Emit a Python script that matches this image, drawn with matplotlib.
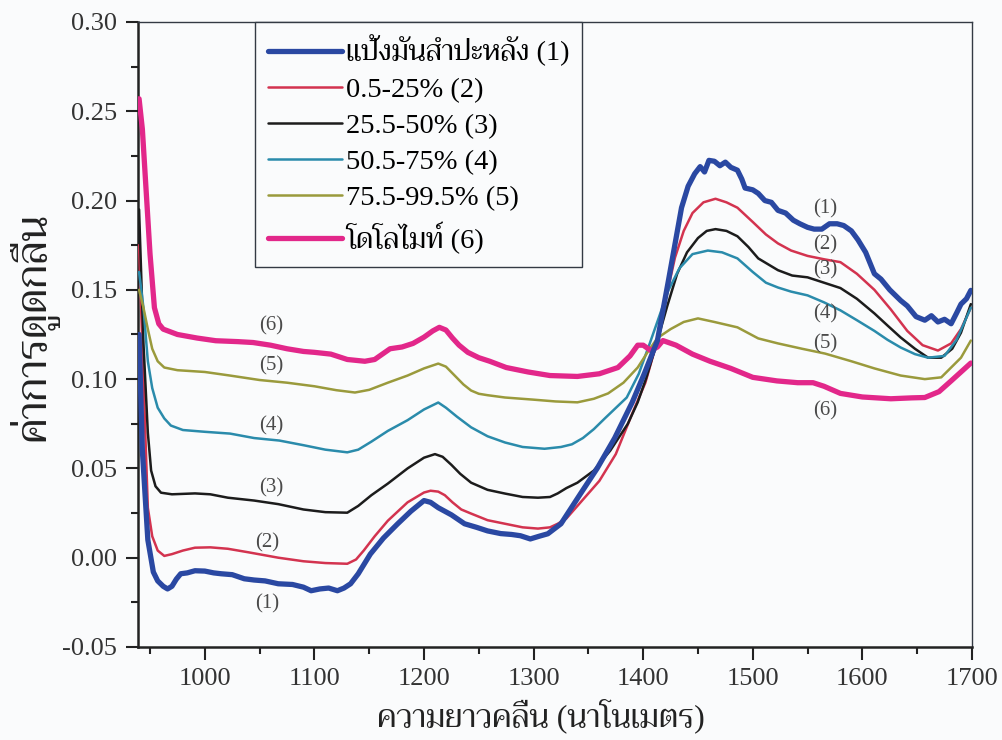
import matplotlib
matplotlib.use("Agg")
import matplotlib.pyplot as plt
from matplotlib import font_manager
from matplotlib.ticker import MultipleLocator

# ---- data ----
nm_1 = [940, 943, 948, 953, 957, 962, 966, 970, 974, 978, 984, 991, 1000, 1008, 1015, 1025,
        1036, 1045, 1055, 1067, 1080, 1090, 1097, 1105, 1113, 1121, 1127, 1133, 1140, 1151,
        1163, 1176, 1188, 1200, 1206, 1213, 1225, 1237, 1248, 1258, 1270, 1280, 1288, 1297,
        1305, 1313, 1325, 1343, 1358, 1374, 1390, 1401, 1413, 1423, 1435, 1441, 1447, 1452,
        1456, 1460, 1465, 1470, 1475, 1480, 1486, 1490, 1493, 1500, 1505, 1511, 1517, 1523,
        1530, 1537, 1543, 1550, 1556, 1563, 1570, 1577, 1583, 1590, 1596, 1603, 1611, 1617,
        1625, 1635, 1641, 1649, 1657, 1663, 1669, 1675, 1681, 1686, 1690, 1695, 1699]
abs_1 = [0.125, 0.06, 0.01, -0.008, -0.013, -0.016, -0.0175, -0.016, -0.012, -0.009, -0.0085,
         -0.0073, -0.0075, -0.0085, -0.009, -0.0095, -0.0118, -0.0125, -0.013, -0.0146, -0.015,
         -0.0165, -0.0185, -0.0175, -0.017, -0.0185, -0.017, -0.0146, -0.009, 0.002, 0.011,
         0.019, 0.026, 0.032, 0.031, 0.028, 0.024, 0.019, 0.017, 0.015, 0.0135, 0.013, 0.0123,
         0.0105, 0.012, 0.0134, 0.019, 0.036, 0.05, 0.067, 0.087, 0.103, 0.1216, 0.155, 0.196,
         0.208, 0.215, 0.219, 0.216, 0.2225, 0.222, 0.2195, 0.2215, 0.2186, 0.217, 0.212, 0.207,
         0.206, 0.204, 0.200, 0.199, 0.1945, 0.193, 0.189, 0.187, 0.185, 0.184, 0.184, 0.187,
         0.187, 0.186, 0.183, 0.178, 0.171, 0.159, 0.156, 0.150, 0.144, 0.141, 0.135, 0.133,
         0.1355, 0.132, 0.1335, 0.131, 0.137, 0.142, 0.145, 0.1497]

nm_2 = [940, 944, 948, 952, 957, 963, 970, 980, 991, 1005, 1021, 1040, 1067, 1090, 1110, 1130,
        1138, 1145, 1155, 1167, 1185, 1200, 1206, 1213, 1219, 1226, 1234, 1243, 1258, 1274,
        1290, 1304, 1315, 1322, 1330, 1340, 1350, 1360, 1375, 1390, 1402, 1413, 1421, 1429,
        1437, 1445, 1455, 1466, 1476, 1486, 1500, 1512, 1523, 1535, 1550, 1566, 1580, 1595,
        1611, 1626, 1641, 1655, 1669, 1681, 1690, 1699]
abs_2 = [0.175, 0.10, 0.028, 0.012, 0.004, 0.001, 0.002, 0.004, 0.0056, 0.0058, 0.005, 0.003,
         0.0, -0.002, -0.003, -0.0034, -0.001, 0.004, 0.012, 0.0207, 0.031, 0.0365, 0.0375,
         0.037, 0.035, 0.031, 0.027, 0.0247, 0.021, 0.019, 0.017, 0.0163, 0.017, 0.019, 0.022,
         0.029, 0.036, 0.043, 0.058, 0.0807, 0.098, 0.1216, 0.146, 0.168, 0.183, 0.193, 0.199,
         0.201, 0.199, 0.196, 0.188, 0.181, 0.176, 0.172, 0.169, 0.167, 0.1655, 0.159, 0.150,
         0.139, 0.127, 0.119, 0.116, 0.120, 0.128, 0.140]

nm_3 = [940, 944, 948, 951, 955, 960, 970, 991, 1005, 1021, 1045, 1067, 1090, 1110, 1130, 1140,
        1152, 1167, 1185, 1200, 1210, 1217, 1225, 1233, 1243, 1258, 1274, 1290, 1304, 1315,
        1322, 1330, 1340, 1355, 1370, 1386, 1395, 1403, 1413, 1422, 1431, 1440, 1450, 1458,
        1466, 1476, 1486, 1496, 1505, 1523, 1536, 1550, 1565, 1580, 1595, 1611, 1623, 1635,
        1648, 1660, 1672, 1682, 1690, 1699]
abs_3 = [0.195, 0.12, 0.07, 0.0488, 0.04, 0.0364, 0.0355, 0.036, 0.0355, 0.0336, 0.032, 0.030,
         0.027, 0.0255, 0.0252, 0.029, 0.035, 0.0415, 0.050, 0.056, 0.058, 0.0565, 0.052, 0.047,
         0.042, 0.038, 0.0359, 0.034, 0.0336, 0.034, 0.036, 0.039, 0.042, 0.0488, 0.060, 0.075,
         0.087, 0.101, 0.1216, 0.141, 0.159, 0.171, 0.179, 0.183, 0.184, 0.183, 0.180, 0.174,
         0.1676, 0.161, 0.158, 0.157, 0.154, 0.151, 0.145, 0.1368, 0.130, 0.1233, 0.117, 0.112,
         0.112, 0.117, 0.126, 0.142]

nm_4 = [940, 944, 948, 952, 957, 963, 969, 980, 1000, 1023, 1045, 1068, 1090, 1110, 1130, 1140,
        1152, 1167, 1185, 1200, 1213, 1220, 1230, 1243, 1258, 1274, 1290, 1310, 1325, 1335,
        1345, 1355, 1365, 1385, 1396, 1406, 1414, 1423, 1433, 1445, 1459, 1472, 1486, 1500,
        1512, 1523, 1535, 1550, 1565, 1580, 1595, 1611, 1623, 1635, 1648, 1660, 1675, 1686,
        1699]
abs_4 = [0.16, 0.14, 0.11, 0.095, 0.084, 0.078, 0.074, 0.0715, 0.0705, 0.0695, 0.067, 0.0656,
         0.063, 0.0605, 0.059, 0.0605, 0.065, 0.071, 0.077, 0.083, 0.0869, 0.084, 0.079, 0.073,
         0.068, 0.0645, 0.062, 0.061, 0.062, 0.0635, 0.067, 0.072, 0.078, 0.0897, 0.103, 0.120,
         0.134, 0.1497, 0.162, 0.170, 0.172, 0.171, 0.1676, 0.160, 0.154, 0.1513, 0.149, 0.1469,
         0.143, 0.1385, 0.133, 0.127, 0.122, 0.1177, 0.114, 0.112, 0.113, 0.122, 0.140]

nm_5 = [940, 944, 948, 952, 957, 963, 975, 1000, 1023, 1050, 1075, 1100, 1120, 1137, 1150, 1167,
        1185, 1200, 1213, 1220, 1228, 1236, 1243, 1250, 1258, 1274, 1300, 1320, 1340, 1355,
        1368, 1382, 1395, 1405, 1413, 1425, 1437, 1450, 1465, 1486, 1505, 1523, 1545, 1566,
        1590, 1611, 1635, 1657, 1672, 1681, 1690, 1699]
abs_5 = [0.15, 0.14, 0.128, 0.117, 0.110, 0.1065, 0.105, 0.104, 0.102, 0.0995, 0.098, 0.096,
         0.0938, 0.0925, 0.094, 0.098, 0.102, 0.106, 0.1087, 0.107, 0.102, 0.097, 0.0936,
         0.0918, 0.091, 0.0897, 0.0885, 0.0875, 0.087, 0.089, 0.092, 0.098, 0.1065, 0.116,
         0.123, 0.128, 0.132, 0.134, 0.132, 0.129, 0.1228, 0.120, 0.117, 0.1143, 0.110, 0.106,
         0.102, 0.100, 0.101, 0.1065, 0.112, 0.1216]

nm_6 = [940, 943, 946, 950, 954, 958, 962, 975, 993, 1010, 1030, 1044, 1060, 1075, 1090, 1100,
        1115, 1130, 1146, 1155, 1162, 1169, 1180, 1190, 1200, 1208, 1214, 1220, 1226, 1232,
        1240, 1250, 1260, 1275, 1295, 1315, 1340, 1360, 1377, 1388, 1395, 1400, 1407, 1413,
        1418, 1430, 1445, 1461, 1480, 1500, 1522, 1541, 1555, 1565, 1580, 1600, 1626, 1645,
        1657, 1670, 1681, 1690, 1699]
abs_6 = [0.257, 0.24, 0.21, 0.17, 0.14, 0.131, 0.128, 0.125, 0.123, 0.1215, 0.121, 0.1205,
         0.119, 0.117, 0.1155, 0.115, 0.114, 0.111, 0.110, 0.111, 0.114, 0.117, 0.118, 0.120,
         0.1235, 0.127, 0.129, 0.1275, 0.123, 0.119, 0.115, 0.112, 0.110, 0.1065, 0.104, 0.102,
         0.1015, 0.103, 0.1065, 0.113, 0.119, 0.119, 0.116, 0.118, 0.1216, 0.119, 0.114, 0.110,
         0.106, 0.101, 0.099, 0.098, 0.098, 0.096, 0.092, 0.090, 0.089, 0.0895, 0.0897, 0.093,
         0.099, 0.104, 0.109]

legend_names = ["แป้งมันสำปะหลัง (1)", "0.5-25% (2)", "25.5-50% (3)",
                "50.5-75% (4)", "75.5-99.5% (5)", "โดโลไมท์ (6)"]
curve_tags = ["(1)", "(2)", "(3)", "(4)", "(5)", "(6)"]
# where the (n) tags sit: left group and right group
tag_left_x = [1057, 1057, 1061, 1061, 1061, 1061]
tag_left_y = [-0.026, 0.0084, 0.039, 0.074, 0.1076, 0.130]
tag_right_x = [1566, 1566, 1566, 1566, 1566, 1566]
tag_right_y = [0.1956, 0.175, 0.161, 0.1368, 0.120, 0.0824]

xticks = [1000, 1100, 1200, 1300, 1400, 1500, 1600, 1700]
yticks = [-0.05, 0.00, 0.05, 0.10, 0.15, 0.20, 0.25, 0.30]

# ---- fonts: latin serif + a Thai font that is actually installed ----
installed = {f.name for f in font_manager.fontManager.ttflist}
thai_font = "DejaVu Sans"
for name in ["Trirong", "Taviraj", "Sarabun", "Noto Serif Thai", "Noto Sans Thai"]:
    if name in installed:
        thai_font = name
        break
serif = ["Liberation Serif", thai_font]
plt.rcParams["font.family"] = serif

colors = ["#2a48a2", "#d3334f", "#1c1c1c", "#2a8bab", "#9a9a3c", "#e2278a"]
widths = [3.8, 1.8, 1.8, 1.8, 1.8, 3.8]
series_x = [nm_1, nm_2, nm_3, nm_4, nm_5, nm_6]
series_y = [abs_1, abs_2, abs_3, abs_4, abs_5, abs_6]

fig = plt.figure(figsize=(10.02, 7.4), dpi=100, facecolor="#fafbfc")
ax = fig.add_axes([0.1377, 0.1257, 0.8323, 0.8446])
ax.set_facecolor("#fafbfc")

for i in range(6):
    ax.plot(series_x[i], series_y[i], color=colors[i], lw=widths[i],
            label=legend_names[i], solid_capstyle="round", solid_joinstyle="round",
            zorder=3 + (i == 0))

for i in range(6):
    ax.text(tag_left_x[i], tag_left_y[i], curve_tags[i], fontsize=15,
            color="#4a4a4a", ha="center", va="center")
    ax.text(tag_right_x[i], tag_right_y[i], curve_tags[i], fontsize=15,
            color="#4a4a4a", ha="center", va="center")

ax.set_xlim(939, 1700)
ax.set_ylim(-0.05, 0.30)
ax.set_xticks(xticks)
ax.set_yticks(yticks)
ax.set_yticklabels(["%.2f" % v for v in yticks])
ax.xaxis.set_minor_locator(MultipleLocator(50))
ax.yaxis.set_minor_locator(MultipleLocator(0.025))
ax.tick_params(which="major", length=9, width=1.5, labelsize=19,
               labelcolor="#333333", color="#222222", pad=6)
ax.tick_params(which="minor", length=5, width=1.5, color="#222222")
for s in ["left", "bottom"]:
    ax.spines[s].set_linewidth(1.8)
    ax.spines[s].set_color("#222222")
for s in ["top", "right"]:
    ax.spines[s].set_linewidth(1.0)
    ax.spines[s].set_color("#333a44")

leg = ax.legend(loc="upper left", bbox_to_anchor=(0.140, 1.0), fontsize=20.5,
                frameon=True, fancybox=False, handlelength=2.6, handletextpad=0.15,
                labelspacing=0.36, borderpad=0.45, borderaxespad=0.0)
leg.get_frame().set_edgecolor("#333a44")
leg.get_frame().set_linewidth(1.0)
leg.get_frame().set_facecolor("#fafbfc")
leg.get_frame().set_alpha(1.0)

fig.text(0.033, 0.559, "ค่าการดูดกลืน", rotation=90, fontsize=30,
         ha="center", va="center", color="#222222")
fig.text(0.54, 0.033, "ความยาวคลื่น (นาโนเมตร)", fontsize=23,
         ha="center", va="center", color="#222222")

fig.savefig("out.png", dpi=100, facecolor=fig.get_facecolor())
